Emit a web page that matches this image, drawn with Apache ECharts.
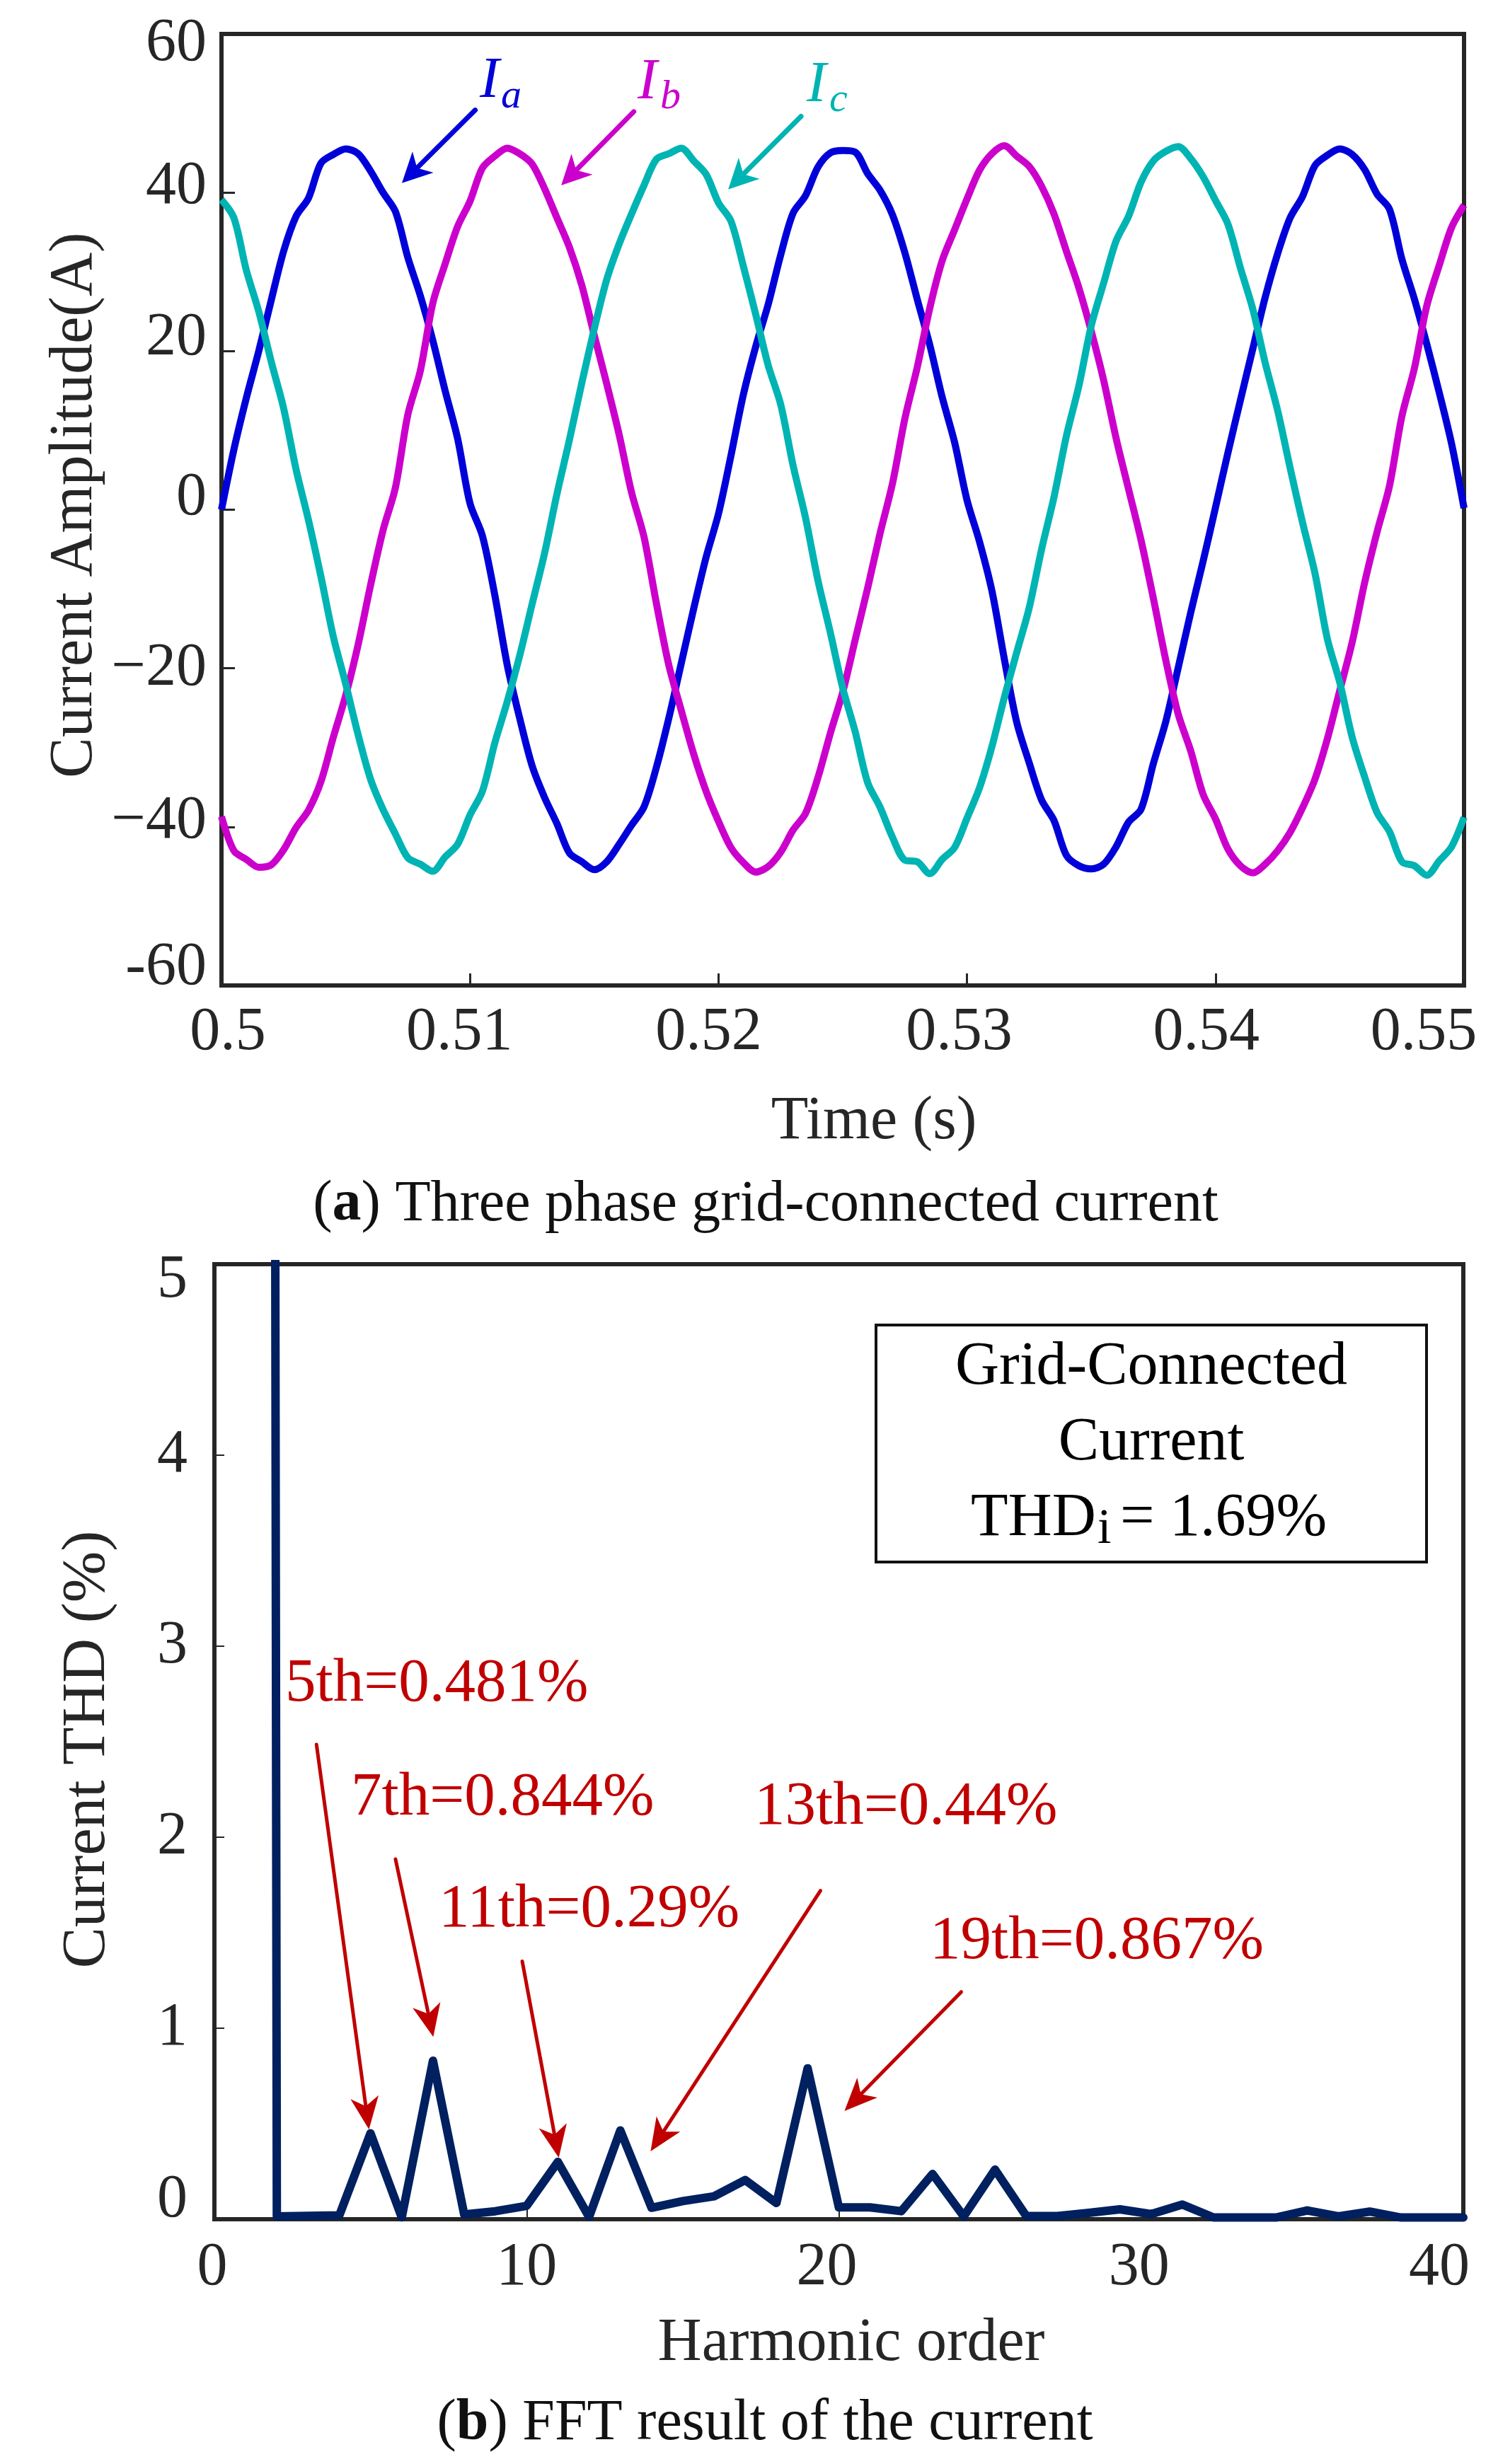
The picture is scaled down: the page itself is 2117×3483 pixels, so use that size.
<!DOCTYPE html>
<html>
<head>
<meta charset="utf-8">
<title>Grid-connected current</title>
<script src="https://cdn.jsdelivr.net/npm/echarts@6/dist/echarts.min.js"></script>
<style>
  html, body { margin: 0; padding: 0; background: #fff; }
  #main { width: 2117px; height: 3483px; }
</style>
</head>
<body>
<div id="main"></div>
<script>
// (a) three phase current, sampled every 0.5 ms from t = 0.5 s to 0.55 s
var t0 = 0.5;
var dt = 0.0005;
var ia = [
  0.0, 7.6, 14.1, 20.0, 26.4, 32.6, 37.0, 39.3, 43.7, 44.8, 45.5, 44.9, 42.7, 40.0, 37.6, 31.8, 27.0, 21.4, 15.0, 9.0,
  0.8, -3.3, -10.8, -19.6, -26.3, -32.3, -36.3, -39.6, -43.3, -44.4, -45.4, -44.4, -42.2, -39.8, -37.5, -32.5, -26.3, -19.4, -12.5, -6.0,
  -0.5, 6.8, 14.5, 20.6, 25.9, 32.1, 37.4, 39.6, 43.2, 45.0, 45.3, 45.1, 42.4, 40.3, 37.2, 32.4, 26.5, 20.8, 14.2, 8.5,
  1.2, -4.0, -10.2, -18.8, -26.8, -31.9, -36.6, -39.2, -43.6, -44.9, -45.3, -44.7, -42.5, -39.4, -37.8, -32.0, -26.7, -19.9, -13.0, -6.5,
  0.3, 7.2, 13.8, 20.3, 26.8, 32.3, 36.8, 39.5, 43.4, 44.7, 45.5, 44.8, 42.9, 39.8, 37.9, 31.6, 26.6, 20.9, 14.8, 8.3, 0.2
];
var ib = [
  -38.7, -43.0, -44.1, -45.1, -44.8, -42.9, -40.1, -37.9, -34.3, -28.7, -23.4, -17.0, -9.5, -2.6, 2.8, 12.0, 17.5, 26.0, 31.0, 35.7,
  38.9, 43.1, 44.6, 45.6, 44.9, 43.6, 40.5, 36.8, 33.1, 28.3, 22.0, 15.9, 9.5, 2.2, -3.4, -11.8, -19.6, -25.3, -30.8, -35.5,
  -39.3, -42.6, -44.5, -45.7, -45.0, -43.2, -40.4, -38.3, -33.8, -28.2, -23.0, -16.4, -9.9, -3.0, 3.3, 11.5, 18.0, 25.4, 31.4, 35.3,
  39.2, 42.8, 44.9, 45.9, 44.6, 43.3, 40.8, 37.3, 32.6, 28.0, 22.5, 16.3, 9.0, 2.6, -3.8, -11.2, -19.0, -25.8, -30.4, -35.9,
  -39.0, -42.8, -44.9, -45.8, -44.7, -43.0, -40.7, -37.6, -34.0, -28.9, -22.8, -16.7, -9.2, -2.8, 3.0, 11.8, 17.8, 25.7, 30.8, 35.6, 38.4
];
var ic = [
  39.1, 36.8, 30.2, 25.0, 18.7, 12.8, 5.1, -1.3, -8.4, -16.0, -22.0, -28.4, -34.0, -37.8, -40.9, -43.9, -44.7, -45.6, -43.8, -42.2,
  -38.5, -35.5, -29.4, -24.2, -18.4, -11.9, -5.5, 2.0, 8.8, 16.0, 22.8, 29.0, 33.5, 37.3, 40.9, 44.2, 44.9, 45.6, 44.0, 42.3,
  38.7, 36.4, 30.7, 24.6, 18.2, 13.3, 5.6, -1.0, -8.9, -15.5, -22.5, -28.0, -34.4, -37.5, -41.3, -44.2, -44.4, -45.9, -44.1, -42.6,
  -38.9, -35.1, -29.9, -23.7, -18.0, -12.4, -5.0, 1.6, 9.3, 15.6, 23.2, 28.6, 33.9, 37.0, 41.3, 44.0, 45.2, 45.8, 44.3, 42.0,
  39.0, 36.0, 30.5, 25.3, 18.5, 12.5, 5.3, -1.6, -8.0, -16.3, -21.8, -28.7, -33.7, -38.2, -40.6, -44.4, -44.9, -46.1, -44.3, -42.5, -38.8
];
var timeTicks = ['0.5', '0.51', '0.52', '0.53', '0.54', '0.55'];
// label arrows [t1, y1, t2(tip), y2(tip)]
var phaseArrows = [
  [0.51021, 50.4, 0.50726, 41.2],
  [0.51659, 50.2, 0.51367, 40.9],
  [0.52332, 49.6, 0.52039, 40.4]
];

// (b) FFT spectrum, harmonic 1..40 (fundamental = 100 %)
var harmonic = [];
for (var h = 1; h <= 40; h++) harmonic.push(h);
var thd = [
  100, 0.015, 0.018, 0.02, 0.45, 0.01, 0.83, 0.025, 0.042, 0.07,
  0.30, 0.012, 0.465, 0.06, 0.095, 0.12, 0.205, 0.085, 0.79, 0.062,
  0.062, 0.042, 0.237, 0.015, 0.26, 0.017, 0.017, 0.033, 0.052, 0.027,
  0.077, 0.009, 0.009, 0.009, 0.046, 0.015, 0.04, 0.009, 0.009, 0.009
];
var harmTicks = ['0', '10', '20', '30', '40'];
var notes = ['5th=0.481%', '7th=0.844%', '11th=0.29%', '13th=0.44%', '19th=0.867%'];
var noteArrows = [
  [3.27, 2.485, 4.95, 0.47],
  [5.80, 1.885, 7.01, 0.955],
  [9.86, 1.35, 11.03, 0.322],
  [19.41, 1.72, 13.97, 0.356],
  [23.92, 1.19, 20.18, 0.567]
];

var SERIF = '"Liberation Serif", "Times New Roman", serif';
var AXIS = '#262626';
var RED = '#C00000';
var phaseColors = ['#0000D8', '#CC00CC', '#00B4B4'];

function toPoints(arr) {
  var out = [];
  for (var k = 0; k < arr.length; k++) {
    out.push([+(t0 + k * dt).toFixed(4), arr[k]]);
  }
  return out;
}

function pad(shift) {
  // shift > 0 moves the text down, < 0 up
  return shift >= 0 ? [2 * shift, 0, 0, 0] : [0, 0, -2 * shift, 0];
}
function hpad(shift) {
  return shift >= 0 ? [0, 0, 0, 2 * shift] : [0, -2 * shift, 0, 0];
}
function lbl(extra) {
  var s = { fontFamily: SERIF, fontSize: 86, color: AXIS };
  for (var k in extra) s[k] = extra[k];
  return s;
}

function arrowItem(colors, headLen, headWid, shaftW) {
  return function (params, api) {
    var a = api.coord([api.value(0), api.value(1)]);
    var b = api.coord([api.value(2), api.value(3)]);
    var dx = b[0] - a[0], dy = b[1] - a[1];
    var len = Math.sqrt(dx * dx + dy * dy);
    var ux = dx / len, uy = dy / len, nx = -uy, ny = ux;
    var bx = b[0] - ux * headLen, by = b[1] - uy * headLen;
    var mx = b[0] - ux * headLen * 0.72, my = b[1] - uy * headLen * 0.72;
    var color = colors[params.dataIndex % colors.length];
    return {
      type: 'group',
      children: [
        { type: 'line', shape: { x1: a[0], y1: a[1], x2: mx, y2: my },
          style: { stroke: color, lineWidth: shaftW, lineCap: 'round' } },
        { type: 'polygon',
          shape: { points: [[b[0], b[1]], [bx + nx * headWid / 2, by + ny * headWid / 2], [mx, my], [bx - nx * headWid / 2, by - ny * headWid / 2]] },
          style: { fill: color } }
      ]
    };
  };
}

var chart = echarts.init(document.getElementById('main'));

var option = {
  backgroundColor: '#fff',
  animation: false,
  grid: [
    { left: 313, top: 48, width: 1756, height: 1345, show: true, borderColor: AXIS, borderWidth: 6, backgroundColor: 'rgba(0,0,0,0)' },
    { left: 303, top: 1787, width: 1765, height: 1350, show: true, borderColor: AXIS, borderWidth: 6, backgroundColor: 'rgba(0,0,0,0)' }
  ],
  xAxis: [
    {
      gridIndex: 0, type: 'value', min: 0.5, max: 0.55, interval: 0.01,
      axisLine: { show: true, onZero: false, lineStyle: { color: AXIS, width: 6 } },
      axisTick: { show: true, inside: true, length: 17, lineStyle: { color: AXIS, width: 3 } },
      splitLine: { show: false },
      axisLabel: {
        margin: 24, color: AXIS, fontFamily: SERIF, fontSize: 86,
        formatter: function (v, i) { return '{x' + i + '|' + timeTicks[i] + '}'; },
        rich: {
          x0: lbl({ padding: hpad(9) }), x1: lbl({ padding: hpad(-15) }), x2: lbl({ padding: hpad(-14) }),
          x3: lbl({ padding: hpad(-11) }), x4: lbl({ padding: hpad(-13) }), x5: lbl({ padding: hpad(-57) })
        }
      }
    },
    {
      gridIndex: 1, type: 'value', min: 0, max: 40, interval: 10,
      axisLine: { show: true, onZero: false, lineStyle: { color: AXIS, width: 6 } },
      axisTick: { show: true, inside: true, length: 14, lineStyle: { color: AXIS, width: 2 } },
      splitLine: { show: false },
      axisLabel: {
        margin: 26, color: AXIS, fontFamily: SERIF, fontSize: 86,
        formatter: function (v, i) { return '{h' + i + '|' + harmTicks[i] + '}'; },
        rich: {
          h0: lbl({ padding: hpad(-3) }), h1: lbl({ padding: hpad(0) }), h2: lbl({ padding: hpad(-17) }),
          h3: lbl({ padding: hpad(-17) }), h4: lbl({ padding: hpad(-34) })
        }
      }
    }
  ],
  yAxis: [
    {
      gridIndex: 0, type: 'value', min: -60, max: 60, interval: 20,
      axisLine: { show: true, onZero: false, lineStyle: { color: AXIS, width: 6 } },
      axisTick: { show: true, inside: true, length: 19, lineStyle: { color: AXIS, width: 3 } },
      splitLine: { show: false },
      axisLabel: {
        margin: 21, color: AXIS, fontFamily: SERIF, fontSize: 86,
        formatter: function (v) {
          var s = v < 0 ? (v === -60 ? '-60' : '\u2212' + (-v)) : String(v);
          return '{' + (v < 0 ? 'm' : 'p') + Math.abs(v) + '|' + s + '}';
        },
        rich: {
          p60: lbl({ padding: pad(14) }), p40: lbl({ padding: pad(-8) }), p20: lbl({ padding: pad(-18) }),
          p0: lbl({ padding: pad(-16) }), m20: lbl({ padding: pad(1) }), m40: lbl({ padding: pad(-7) }),
          m60: lbl({ padding: pad(-25) })
        }
      }
    },
    {
      gridIndex: 1, type: 'value', min: 0, max: 5, interval: 1,
      axisLine: { show: true, onZero: false, lineStyle: { color: AXIS, width: 6 } },
      axisTick: { show: true, inside: true, length: 14, lineStyle: { color: AXIS, width: 2 } },
      splitLine: { show: false },
      axisLabel: {
        margin: 38, color: AXIS, fontFamily: SERIF, fontSize: 86,
        formatter: function (v) { return '{v' + v + '|' + v + '}'; },
        rich: {
          v0: lbl({ padding: pad(-27) }), v1: lbl({}), v2: lbl({}), v3: lbl({}), v4: lbl({}),
          v5: lbl({ padding: pad(23) })
        }
      }
    }
  ],
  series: [
    { name: 'Ia', type: 'line', xAxisIndex: 0, yAxisIndex: 0, data: toPoints(ia), showSymbol: false, smooth: 0.3,
      lineStyle: { color: phaseColors[0], width: 10, join: 'round' }, z: 3 },
    { name: 'Ib', type: 'line', xAxisIndex: 0, yAxisIndex: 0, data: toPoints(ib), showSymbol: false, smooth: 0.3,
      lineStyle: { color: phaseColors[1], width: 10, join: 'round' }, z: 3 },
    { name: 'Ic', type: 'line', xAxisIndex: 0, yAxisIndex: 0, data: toPoints(ic), showSymbol: false, smooth: 0.3,
      lineStyle: { color: phaseColors[2], width: 10, join: 'round' }, z: 3 },
    { type: 'custom', xAxisIndex: 0, yAxisIndex: 0, data: phaseArrows, encode: { x: [0, 2], y: [1, 3] },
      renderItem: arrowItem(phaseColors, 42, 42, 7), z: 4, silent: true },
    { name: 'THD', type: 'line', xAxisIndex: 1, yAxisIndex: 1,
      data: harmonic.map(function (hh, k) { return [hh, thd[k]]; }), showSymbol: false,
      lineStyle: { color: '#002060', width: 12, join: 'round', cap: 'round' }, z: 3 },
    { type: 'custom', xAxisIndex: 1, yAxisIndex: 1, data: noteArrows, encode: { x: [0, 2], y: [1, 3] },
      renderItem: arrowItem([RED], 46, 40, 5), z: 4, silent: true }
  ],
  graphic: [
    // (a) texts
    { type: 'text', x: 106, y: 714, rotation: Math.PI / 2,
      style: { text: 'Current Amplitude(A)', fontFamily: SERIF, fontSize: 86, fill: AXIS, align: 'center', verticalAlign: 'middle' } },
    { type: 'text', x: 1235, y: 1586,
      style: { text: 'Time (s)', fontFamily: SERIF, fontSize: 86, fill: AXIS, align: 'center', verticalAlign: 'middle' } },
    { type: 'text', x: 1082, y: 1703,
      style: { text: '{n|(}{b|a}{n|) Three phase grid-connected current}', align: 'center', verticalAlign: 'middle',
        rich: { n: { fontFamily: SERIF, fontSize: 82, fill: '#111' }, b: { fontFamily: SERIF, fontSize: 82, fontWeight: 'bold', fill: '#111' } } } },
    { type: 'text', x: 678, y: 115, style: { text: 'I', fontFamily: SERIF, fontSize: 83, fontStyle: 'italic', fill: phaseColors[0], align: 'left', verticalAlign: 'middle' } },
    { type: 'text', x: 708, y: 137, style: { text: 'a', fontFamily: SERIF, fontSize: 58, fontStyle: 'italic', fill: phaseColors[0], align: 'left', verticalAlign: 'middle' } },
    { type: 'text', x: 901, y: 117, style: { text: 'I', fontFamily: SERIF, fontSize: 83, fontStyle: 'italic', fill: phaseColors[1], align: 'left', verticalAlign: 'middle' } },
    { type: 'text', x: 933, y: 138, style: { text: 'b', fontFamily: SERIF, fontSize: 58, fontStyle: 'italic', fill: phaseColors[1], align: 'left', verticalAlign: 'middle' } },
    { type: 'text', x: 1140, y: 121, style: { text: 'I', fontFamily: SERIF, fontSize: 83, fontStyle: 'italic', fill: phaseColors[2], align: 'left', verticalAlign: 'middle' } },
    { type: 'text', x: 1172, y: 142, style: { text: 'c', fontFamily: SERIF, fontSize: 58, fontStyle: 'italic', fill: phaseColors[2], align: 'left', verticalAlign: 'middle' } },

    // (b) texts
    { type: 'text', x: 124, y: 2473, rotation: Math.PI / 2,
      style: { text: 'Current THD (%)', fontFamily: SERIF, fontSize: 87, fill: AXIS, align: 'center', verticalAlign: 'middle' } },
    { type: 'text', x: 1203, y: 3313,
      style: { text: 'Harmonic order', fontFamily: SERIF, fontSize: 86, fill: AXIS, align: 'center', verticalAlign: 'middle' } },
    { type: 'text', x: 1081, y: 3426,
      style: { text: '{n|(}{b|b}{n|) FFT result of the current}', align: 'center', verticalAlign: 'middle',
        rich: { n: { fontFamily: SERIF, fontSize: 82, fill: '#111' }, b: { fontFamily: SERIF, fontSize: 82, fontWeight: 'bold', fill: '#111' } } } },
    { type: 'rect', shape: { x: 1238, y: 1873, width: 778, height: 335 },
      style: { fill: '#fff', stroke: '#111', lineWidth: 4 }, z: 5 },
    { type: 'text', x: 1627, y: 1933, z: 6,
      style: { text: 'Grid-Connected', fontFamily: SERIF, fontSize: 86, fill: '#000', align: 'center', verticalAlign: 'middle' } },
    { type: 'text', x: 1627, y: 2040, z: 6,
      style: { text: 'Current', fontFamily: SERIF, fontSize: 86, fill: '#000', align: 'center', verticalAlign: 'middle' } },
    { type: 'text', x: 1372, y: 2147, z: 6,
      style: { text: 'THD', fontFamily: SERIF, fontSize: 86, fill: '#000', align: 'left', verticalAlign: 'middle' } },
    { type: 'text', x: 1551, y: 2163, z: 6,
      style: { text: 'i', fontFamily: SERIF, fontSize: 70, fill: '#000', align: 'left', verticalAlign: 'middle' } },
    { type: 'text', x: 1583, y: 2147, z: 6,
      style: { text: '= 1.69%', fontFamily: SERIF, fontSize: 86, fill: '#000', align: 'left', verticalAlign: 'middle' } },
    { type: 'text', x: 403, y: 2381, z: 6,
      style: { text: notes[0], fontFamily: SERIF, fontSize: 87, fill: RED, align: 'left', verticalAlign: 'middle' } },
    { type: 'text', x: 496, y: 2542, z: 6,
      style: { text: notes[1], fontFamily: SERIF, fontSize: 87, fill: RED, align: 'left', verticalAlign: 'middle' } },
    { type: 'text', x: 620, y: 2700, z: 6,
      style: { text: notes[2], fontFamily: SERIF, fontSize: 87, fill: RED, align: 'left', verticalAlign: 'middle' } },
    { type: 'text', x: 1066, y: 2555, z: 6,
      style: { text: notes[3], fontFamily: SERIF, fontSize: 87, fill: RED, align: 'left', verticalAlign: 'middle' } },
    { type: 'text', x: 1314, y: 2745, z: 6,
      style: { text: notes[4], fontFamily: SERIF, fontSize: 87, fill: RED, align: 'left', verticalAlign: 'middle' } }
  ]
};

chart.setOption(option);
window.onresize = chart.resize;
</script>
</body>
</html>
